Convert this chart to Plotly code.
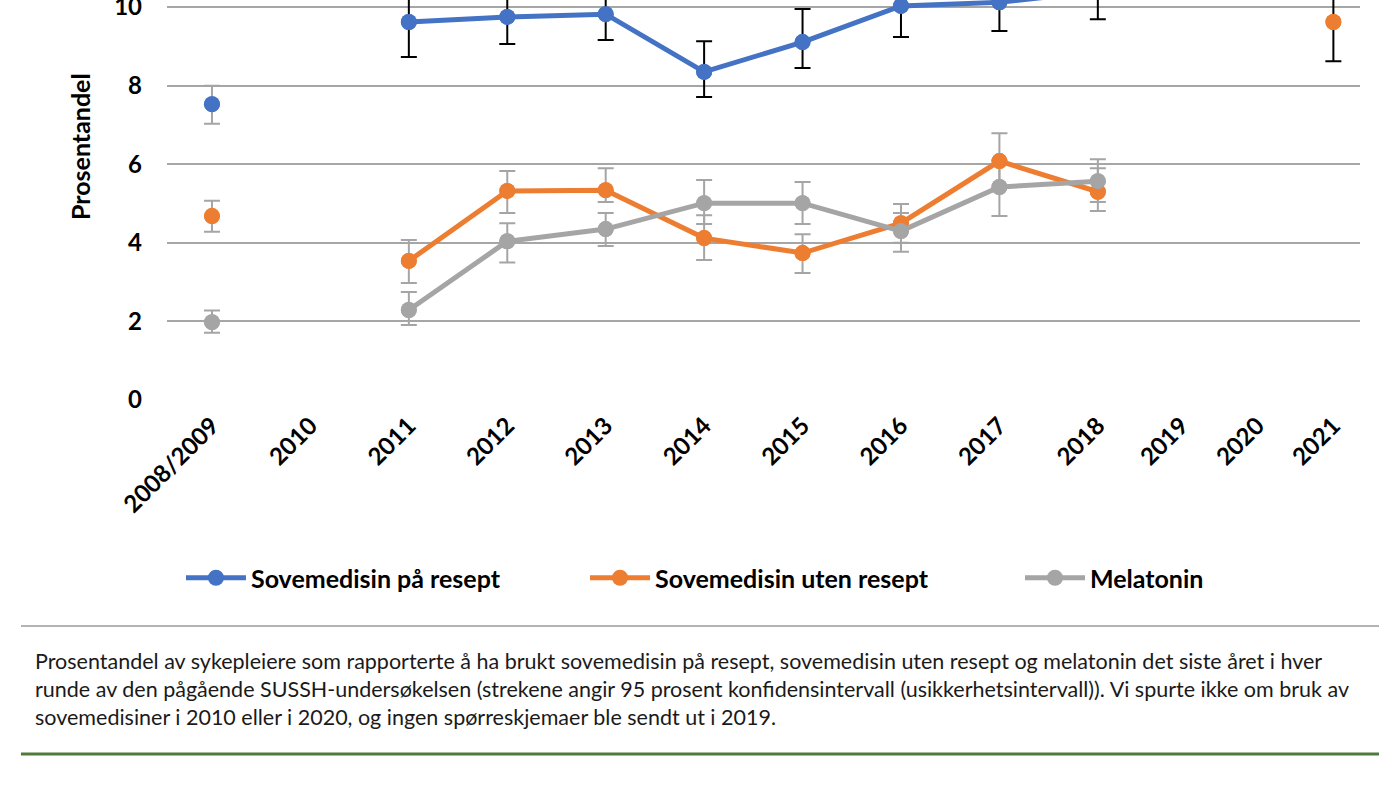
import plotly.graph_objects as go

# categories on the x axis
years = ["2008/2009", "2010", "2011", "2012", "2013", "2014", "2015",
         "2016", "2017", "2018", "2019", "2020", "2021"]

# Sovemedisin paa resept (value, lower and upper 95% CI)
pa_resept = [7.53, None, 9.62, 9.75, 9.82, 8.35, 9.11, 10.03, 10.12, 10.40, None, None, None]
pa_resept_lo = [7.03, None, 8.73, 9.06, 9.16, 7.71, 8.45, 9.24, 9.39, 9.69, None, None, None]
pa_resept_hi = [8.00, None, 10.55, 10.45, 10.50, 9.13, 9.95, 10.85, 10.90, 11.10, None, None, None]

# Sovemedisin uten resept
uten_resept = [4.68, None, 3.54, 5.32, 5.34, 4.12, 3.74, 4.50, 6.08, 5.30, None, None, 9.62]
uten_resept_lo = [4.28, None, 2.98, 4.76, 5.04, 3.56, 3.23, 4.00, 5.40, 4.81, None, None, 8.62]
uten_resept_hi = [5.07, None, 4.07, 5.83, 5.90, 4.70, 4.22, 4.99, 6.79, 5.90, None, None, 10.65]

# Melatonin
melatonin = [1.98, None, 2.29, 4.04, 4.35, 5.01, 5.01, 4.30, 5.42, 5.57, None, None, None]
melatonin_lo = [1.71, None, 1.91, 3.50, 3.92, 4.48, 4.48, 3.77, 4.68, 5.04, None, None, None]
melatonin_hi = [2.28, None, 2.75, 4.50, 4.76, 5.60, 5.55, 4.76, 6.10, 6.13, None, None, None]

caption = ("Prosentandel av sykepleiere som rapporterte å ha brukt sovemedisin på resept, sovemedisin uten resept og melatonin det siste året i hver<br>"
           "runde av den pågående SUSSH-undersøkelsen (strekene angir 95 prosent konfidensintervall (usikkerhetsintervall)). Vi spurte ikke om bruk av<br>"
           "sovemedisiner i 2010 eller i 2020, og ingen spørreskjemaer ble sendt ut i 2019.")

BLUE = "#4472C4"
ORANGE = "#ED7D31"
GRAY = "#A5A5A5"
FONT = "Lato"

series = [
    ("Sovemedisin på resept", pa_resept, pa_resept_lo, pa_resept_hi, BLUE, "black", "legend"),
    ("Sovemedisin uten resept", uten_resept, uten_resept_lo, uten_resept_hi, ORANGE, GRAY, "legend2"),
    ("Melatonin", melatonin, melatonin_lo, melatonin_hi, GRAY, GRAY, "legend3"),
]

# the last three rounds are squeezed together in the original, so they get their own axis
SPLIT = 10


def axis_for(i):
    return "x" if i < SPLIT else "x2"


def err_trace(vals, lo, hi, color, ecolor, idx):
    idx = [i for i in idx if vals[i] is not None]
    return go.Scatter(
        x=[years[i] for i in idx], y=[vals[i] for i in idx],
        xaxis=axis_for(idx[0]), mode="markers", showlegend=False, hoverinfo="skip",
        marker=dict(color=color, size=16),
        error_y=dict(type="data", array=[hi[i] - vals[i] for i in idx],
                     arrayminus=[vals[i] - lo[i] for i in idx], symmetric=False,
                     color=ecolor, thickness=2, width=8),
    )


fig = go.Figure()

# error bars first (survey 2008/2009 has grey bars, 2021 black ones)
for name, vals, lo, hi, color, ecolor, leg in series:
    fig.add_trace(err_trace(vals, lo, hi, color, GRAY, [0]))
    fig.add_trace(err_trace(vals, lo, hi, color, ecolor, range(2, SPLIT)))
    if vals[12] is not None:
        fig.add_trace(err_trace(vals, lo, hi, color, "black", [12]))

for name, vals, lo, hi, color, ecolor, leg in series:
    fig.add_trace(go.Scatter(
        x=years[:SPLIT], y=vals[:SPLIT], name=name, legend=leg, mode="lines+markers",
        connectgaps=False, line=dict(color=color, width=5), marker=dict(color=color, size=16),
    ))
    fig.add_trace(go.Scatter(
        x=years[SPLIT:], y=vals[SPLIT:], xaxis="x2", showlegend=False, mode="lines+markers",
        connectgaps=False, line=dict(color=color, width=5), marker=dict(color=color, size=16),
    ))

tick_font = dict(family=FONT, size=24, color="black", weight="bold")
fig.update_layout(
    xaxis=dict(type="category", categoryorder="array", categoryarray=years[:SPLIT],
               domain=[0, 0.8215], range=[-0.457, 9.5], showgrid=False, showline=False,
               ticks="", automargin=False, tickangle=-45, tickfont=tick_font,
               ticklabelstandoff=6),
    xaxis2=dict(type="category", categoryorder="array", categoryarray=years[SPLIT:],
                domain=[0.8215, 1], range=[-0.45, 2.35], anchor="y", showgrid=False,
                showline=False, ticks="", automargin=False, tickangle=-45, tickfont=tick_font,
                ticklabelstandoff=6),
)
fig.update_yaxes(
    range=[0, 10.18], tickvals=[0, 2, 4, 6, 8, 10], showgrid=True,
    gridcolor="#A6A6A6", gridwidth=1.5, zeroline=False, showline=False,
    automargin=False, ticklabeloverflow="allow",
    tickfont=dict(family=FONT, size=24, color="black", weight="bold"),
    ticklabelstandoff=24,
)

# axis title sits higher than the middle of the visible axis
fig.add_annotation(text="Prosentandel", xref="paper", yref="paper", x=-0.0729, y=0.6325,
                   xanchor="center", yanchor="middle", textangle=-90, showarrow=False,
                   font=dict(family=FONT, size=25, color="black", weight="bold"))

fig.add_shape(type="line", xref="paper", yref="paper", x0=-0.1224, x1=1.0159,
              y0=-0.565, y1=-0.565, line=dict(color="#9A9A9A", width=1.5))
fig.add_shape(type="line", xref="paper", yref="paper", x0=-0.1224, x1=1.0159,
              y0=-0.885, y1=-0.885, line=dict(color="#4F7A3A", width=3))

fig.add_annotation(text=caption, xref="paper", yref="paper", x=-0.1123, y=-0.615,
                   xanchor="left", yanchor="top", align="left", showarrow=False,
                   font=dict(family=FONT, size=21.5, color="#1a1a1a"))

leg_style = dict(orientation="h", xanchor="left", y=-0.445, yanchor="middle",
                 font=dict(family=FONT, size=25, color="black", weight="bold"), itemwidth=60)
fig.update_layout(
    width=1400, height=786,
    margin=dict(l=167, r=40, t=0, b=386),
    plot_bgcolor="white", paper_bgcolor="white",
    legend=dict(x=0.0117, **leg_style),
    legend2=dict(x=0.3504, **leg_style),
    legend3=dict(x=0.715, **leg_style),
)

fig.write_html("out.html", config={"displayModeBar": False},
               post_script="document.body.style.margin='0px';")
